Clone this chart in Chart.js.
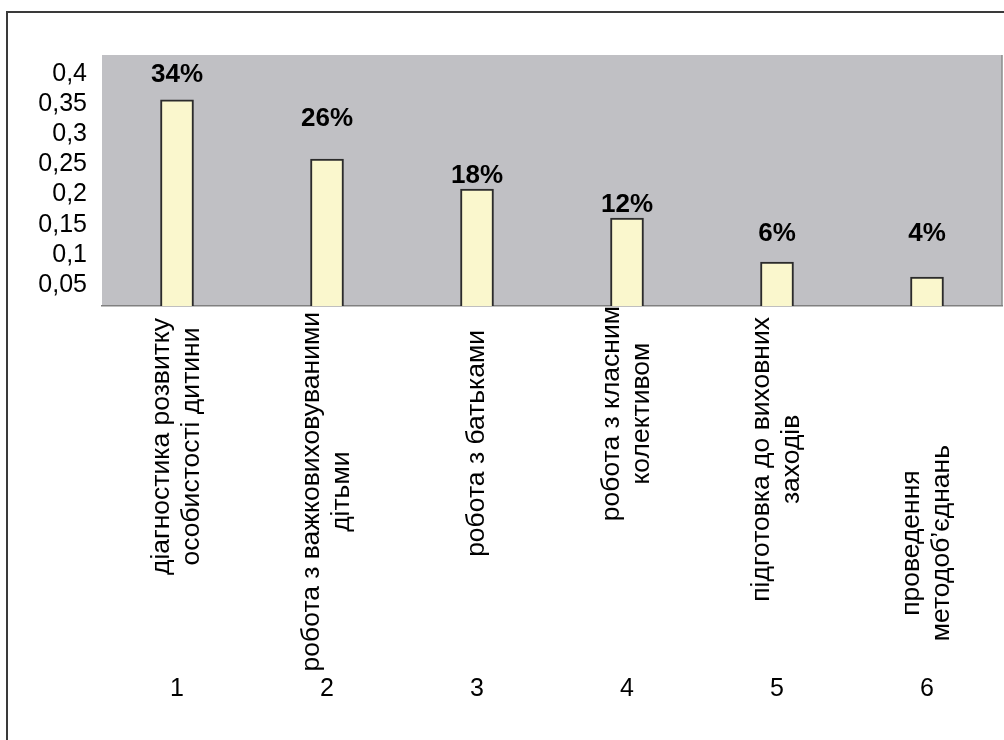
<!DOCTYPE html>
<html>
<head>
<meta charset="utf-8">
<script src="https://cdn.jsdelivr.net/npm/chart.js@4/dist/chart.umd.min.js"></script>
<style>
  body { margin: 0; background: #fff; }
  #wrap { position: relative; width: 1004px; height: 740px; overflow: hidden; }
  #frame { position: absolute; left: 6px; top: 11px; right: -10px; bottom: -10px; border: 2px solid #3a3a3a; }
  canvas { position: absolute; left: 0; top: 0; }
</style>
</head>
<body>
<div id="wrap">
  <div id="frame"></div>
  <canvas id="chart" width="1004" height="740"></canvas>
</div>
<script>
// categories (each entry = lines of the rotated label)
const categories = [
    ['діагностика розвитку', 'особистості дитини'],
    ['робота з важковиховуваними', 'дітьми'],
    ['робота з батьками'],
    ['робота з класним', 'колективом'],
    ['підготовка до виховних', 'заходів'],
    ['проведення', 'методоб’єднань']
];
const numbers = ['1', '2', '3', '4', '5', '6'];

const shares = [0.357, 0.259, 0.209, 0.161, 0.088, 0.063];
const shareLabels = ['34%', '26%', '18%', '12%', '6%', '4%'];

// y axis ticks
const tickValues = [0.05, 0.1, 0.15, 0.2, 0.25, 0.3, 0.35, 0.4];
const tickLabels = ['0,05', '0,1', '0,15', '0,2', '0,25', '0,3', '0,35', '0,4'];

const FONT = '"Liberation Sans", Arial, sans-serif';

// gray plot background + right edge
const plotBackground = {
    id: 'plotBackground',
    beforeDraw(chart) {
        const { ctx, chartArea: a } = chart;
        ctx.save();
        ctx.fillStyle = '#c0c0c4';
        ctx.fillRect(a.left, a.top, a.right - a.left, a.bottom - a.top);
        ctx.strokeStyle = '#8c8c8c';
        ctx.lineWidth = 1.5;
        ctx.beginPath();
        ctx.moveTo(a.right, a.top);
        ctx.lineTo(a.right, a.bottom);
        ctx.stroke();
        ctx.restore();
    }
};

// percent labels above the bars
const barLabels = {
    id: 'barLabels',
    afterDatasetsDraw(chart, args, opts) {
        const ctx = chart.ctx;
        const meta = chart.getDatasetMeta(0);
        ctx.save();
        ctx.font = 'bold 26px ' + FONT;
        ctx.fillStyle = '#000';
        ctx.textAlign = 'center';
        ctx.textBaseline = 'middle';
        meta.data.forEach((bar, i) => {
            ctx.fillText(shareLabels[i], bar.x, bar.y - opts.offsets[i]);
        });
        ctx.restore();
    }
};

// rotated category names and the numbers under them
const categoryLabels = {
    id: 'categoryLabels',
    afterDraw(chart, args, opts) {
        const ctx = chart.ctx;
        const x = chart.scales.x;
        const bottom = chart.chartArea.bottom;
        ctx.save();
        ctx.fillStyle = '#000';
        ctx.font = '26.5px ' + FONT;
        categories.forEach((lines, i) => {
            const cx = x.getPixelForValue(i);
            const w = Math.max(...lines.map(l => ctx.measureText(l).width));
            ctx.save();
            ctx.translate(cx, bottom + opts.pads[i]);
            ctx.rotate(-Math.PI / 2);
            ctx.textAlign = 'center';
            ctx.textBaseline = 'middle';
            lines.forEach((line, k) => {
                const dy = (k - (lines.length - 1) / 2) * opts.lineHeight;
                ctx.fillText(line, -w / 2, dy);
            });
            ctx.restore();
        });
        ctx.font = '25px ' + FONT;
        ctx.textAlign = 'center';
        ctx.textBaseline = 'middle';
        numbers.forEach((n, i) => {
            ctx.fillText(n, x.getPixelForValue(i), bottom + opts.numberGap);
        });
        ctx.restore();
    }
};

new Chart(document.getElementById('chart'), {
    type: 'bar',
    data: {
        labels: categories,
        datasets: [{
            data: shares,
            backgroundColor: '#faf7cd',
            borderColor: '#2b2b2b',
            borderWidth: 2,
            barThickness: 33
        }]
    },
    options: {
        responsive: false,
        animation: false,
        layout: { padding: { top: 55, right: 2, left: 0, bottom: 0 } },
        plugins: {
            legend: { display: false },
            tooltip: { enabled: false },
            barLabels: { offsets: [25, 40, 13, 13, 28, 43] },
            categoryLabels: { pads: [12, 6, 24, 0, 11, 139], lineHeight: 30, numberGap: 383 }
        },
        scales: {
            x: {
                grid: { display: false },
                border: { display: true, color: '#808080', width: 1.5 },
                ticks: { display: false },
                afterFit(scale) { scale.height = 434; }
            },
            y: {
                min: 0.0152,
                max: 0.4315,
                grid: { display: false, drawTicks: false },
                border: { display: false },
                afterBuildTicks(scale) {
                    scale.ticks = tickValues.map(v => ({ value: v }));
                },
                ticks: {
                    color: '#000',
                    font: { family: FONT, size: 25 },
                    padding: 15,
                    callback: (v) => tickLabels[tickValues.indexOf(v)]
                },
                afterFit(scale) { scale.width = 102; }
            }
        }
    },
    plugins: [plotBackground, barLabels, categoryLabels]
});
</script>
</body>
</html>
